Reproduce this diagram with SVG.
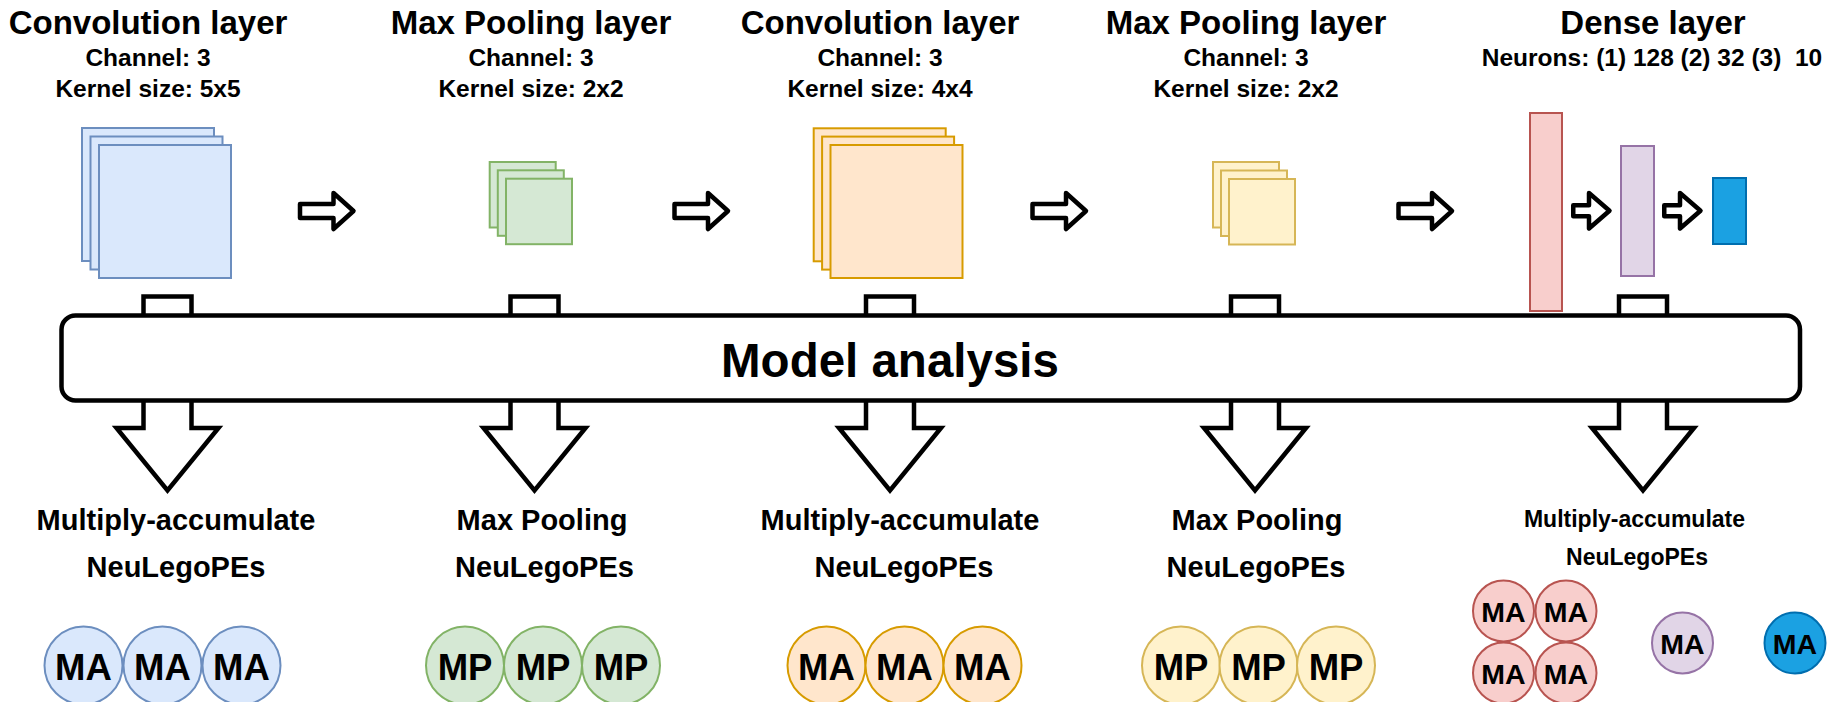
<svg xmlns="http://www.w3.org/2000/svg" xmlns:xlink="http://www.w3.org/1999/xlink" width="1841" height="702" viewBox="0 0 1841 702">
<style>
text{font-family:"Liberation Sans",Arial,Helvetica,sans-serif;font-weight:bold;fill:#000;text-anchor:middle;white-space:pre}
.title{font-size:33px}
.sub{font-size:24.5px}
.lbl{font-size:29px}
.lbls{font-size:23px}
.pe{font-size:36.5px}
.pes{font-size:28.5px}
.main{font-size:47.5px}
.blue{fill:#dae8fc;stroke:#6c8ebf;stroke-width:2}
.green{fill:#d5e8d4;stroke:#82b366;stroke-width:2}
.orange{fill:#ffe6cc;stroke:#d79b00;stroke-width:2}
.yellow{fill:#fff2cc;stroke:#d6b656;stroke-width:2}
.red{fill:#f8cecc;stroke:#b85450;stroke-width:2}
.purple{fill:#e1d5e7;stroke:#9673a6;stroke-width:2}
.dblue{fill:#1ba1e2;stroke:#006eaf;stroke-width:2}
.harrow{fill:#fff;stroke:#000;stroke-width:4.5;stroke-linejoin:round}
.varrow{fill:#fff;stroke:#000;stroke-width:4.5;stroke-linejoin:miter}
.box{fill:#fff;stroke:#000;stroke-width:4.5}
</style>
<defs>
<path id="ha" class="harrow" d="M2.5,-7 H36 V-18 L56,0 L36,18 V7 H2.5 Z"/>
<path id="hs" class="harrow" d="M2.25,-5.5 H18 V-17.75 L38.5,0 L18,17.75 V5.5 H2.25 Z"/>
<path id="va" class="varrow" d="M-24,296.5 H24 V428 H51 L0,490.5 L-51,428 H-24 Z"/>
</defs>

<g id="conv1">
<text class="title" x="148" y="34">Convolution layer</text>
<text class="sub" x="148" y="66">Channel: 3</text>
<text class="sub" x="148" y="97">Kernel size: 5x5</text>
<rect class="blue" x="82" y="128" width="132" height="133"/>
<rect class="blue" x="90.5" y="136.5" width="132" height="133"/>
<rect class="blue" x="99" y="145" width="132" height="133"/>
</g>

<g id="pool1">
<text class="title" x="531" y="34">Max Pooling layer</text>
<text class="sub" x="531" y="66">Channel: 3</text>
<text class="sub" x="531" y="97">Kernel size: 2x2</text>
<rect class="green" x="489.7" y="162" width="66" height="65.5"/>
<rect class="green" x="497.8" y="170.3" width="66" height="65.5"/>
<rect class="green" x="506" y="178.7" width="66" height="65.5"/>
</g>

<g id="conv2">
<text class="title" x="880" y="34">Convolution layer</text>
<text class="sub" x="880" y="66">Channel: 3</text>
<text class="sub" x="880" y="97">Kernel size: 4x4</text>
<rect class="orange" x="813.7" y="128.3" width="132" height="133"/>
<rect class="orange" x="822.1" y="136.6" width="132" height="133"/>
<rect class="orange" x="830.5" y="145" width="132" height="133"/>
</g>

<g id="pool2">
<text class="title" x="1246" y="34">Max Pooling layer</text>
<text class="sub" x="1246" y="66">Channel: 3</text>
<text class="sub" x="1246" y="97">Kernel size: 2x2</text>
<rect class="yellow" x="1213" y="162" width="66" height="65.5"/>
<rect class="yellow" x="1221" y="170.5" width="66" height="65.5"/>
<rect class="yellow" x="1229" y="179" width="66" height="65.5"/>
</g>

<g id="dense">
<text class="title" x="1653" y="34">Dense layer</text>
<text class="sub" x="1652" y="66">Neurons: (1) 128 (2) 32 (3)  10</text>
<rect class="red" x="1530" y="113" width="32" height="198"/>
<rect class="purple" x="1621" y="146" width="33" height="130"/>
<rect class="dblue" x="1713" y="178" width="33" height="66"/>
</g>

<g id="connectors">
<use xlink:href="#ha" x="297.5" y="211"/>
<use xlink:href="#ha" x="672" y="211"/>
<use xlink:href="#ha" x="1030" y="211"/>
<use xlink:href="#ha" x="1396" y="211"/>
<use xlink:href="#hs" x="1571" y="210.7"/>
<use xlink:href="#hs" x="1662" y="210.7"/>
<use xlink:href="#va" x="167.5" y="0"/>
<use xlink:href="#va" x="534.5" y="0"/>
<use xlink:href="#va" x="890" y="0"/>
<use xlink:href="#va" x="1255" y="0"/>
<use xlink:href="#va" x="1643" y="0"/>
</g>

<g id="model-analysis">
<rect class="box" x="61.5" y="315.5" width="1738.5" height="85" rx="14" ry="14"/>
<text class="main" x="890" y="377">Model analysis</text>
</g>

<g id="pe-conv1">
<text class="lbl" x="176" y="530">Multiply-accumulate</text>
<text class="lbl" x="176" y="577">NeuLegoPEs</text>
<circle class="blue" cx="83.5" cy="665.5" r="39"/>
<circle class="blue" cx="162.5" cy="665.5" r="39"/>
<circle class="blue" cx="241.5" cy="665.5" r="39"/>
<text class="pe" x="83.5" y="680">MA</text>
<text class="pe" x="162.5" y="680">MA</text>
<text class="pe" x="241.5" y="680">MA</text>
</g>

<g id="pe-pool1">
<text class="lbl" x="542" y="530">Max Pooling</text>
<text class="lbl" x="544.5" y="577">NeuLegoPEs</text>
<circle class="green" cx="465" cy="665.5" r="39"/>
<circle class="green" cx="543" cy="665.5" r="39"/>
<circle class="green" cx="621" cy="665.5" r="39"/>
<text class="pe" x="465" y="680">MP</text>
<text class="pe" x="543" y="680">MP</text>
<text class="pe" x="621" y="680">MP</text>
</g>

<g id="pe-conv2">
<text class="lbl" x="900" y="530">Multiply-accumulate</text>
<text class="lbl" x="904" y="577">NeuLegoPEs</text>
<circle class="orange" cx="826.5" cy="665.5" r="39"/>
<circle class="orange" cx="904.5" cy="665.5" r="39"/>
<circle class="orange" cx="982.5" cy="665.5" r="39"/>
<text class="pe" x="826.5" y="680">MA</text>
<text class="pe" x="904.5" y="680">MA</text>
<text class="pe" x="982.5" y="680">MA</text>
</g>

<g id="pe-pool2">
<text class="lbl" x="1257" y="530">Max Pooling</text>
<text class="lbl" x="1256" y="577">NeuLegoPEs</text>
<circle class="yellow" cx="1181" cy="665.5" r="39"/>
<circle class="yellow" cx="1258.5" cy="665.5" r="39"/>
<circle class="yellow" cx="1336" cy="665.5" r="39"/>
<text class="pe" x="1181" y="680">MP</text>
<text class="pe" x="1258.5" y="680">MP</text>
<text class="pe" x="1336" y="680">MP</text>
</g>

<g id="pe-dense">
<text class="lbls" x="1634.5" y="527">Multiply-accumulate</text>
<text class="lbls" x="1637" y="565">NeuLegoPEs</text>
<circle class="red" cx="1503.5" cy="611" r="30.5"/>
<circle class="red" cx="1566" cy="611" r="30.5"/>
<circle class="red" cx="1503.5" cy="673" r="30.5"/>
<circle class="red" cx="1566" cy="673" r="30.5"/>
<circle class="purple" cx="1682.5" cy="643" r="30.5"/>
<circle class="dblue" cx="1795" cy="643" r="30.5"/>
<text class="pes" x="1503.5" y="622">MA</text>
<text class="pes" x="1566" y="622">MA</text>
<text class="pes" x="1503.5" y="684">MA</text>
<text class="pes" x="1566" y="684">MA</text>
<text class="pes" x="1682.5" y="654">MA</text>
<text class="pes" x="1795" y="654">MA</text>
</g>
</svg>
